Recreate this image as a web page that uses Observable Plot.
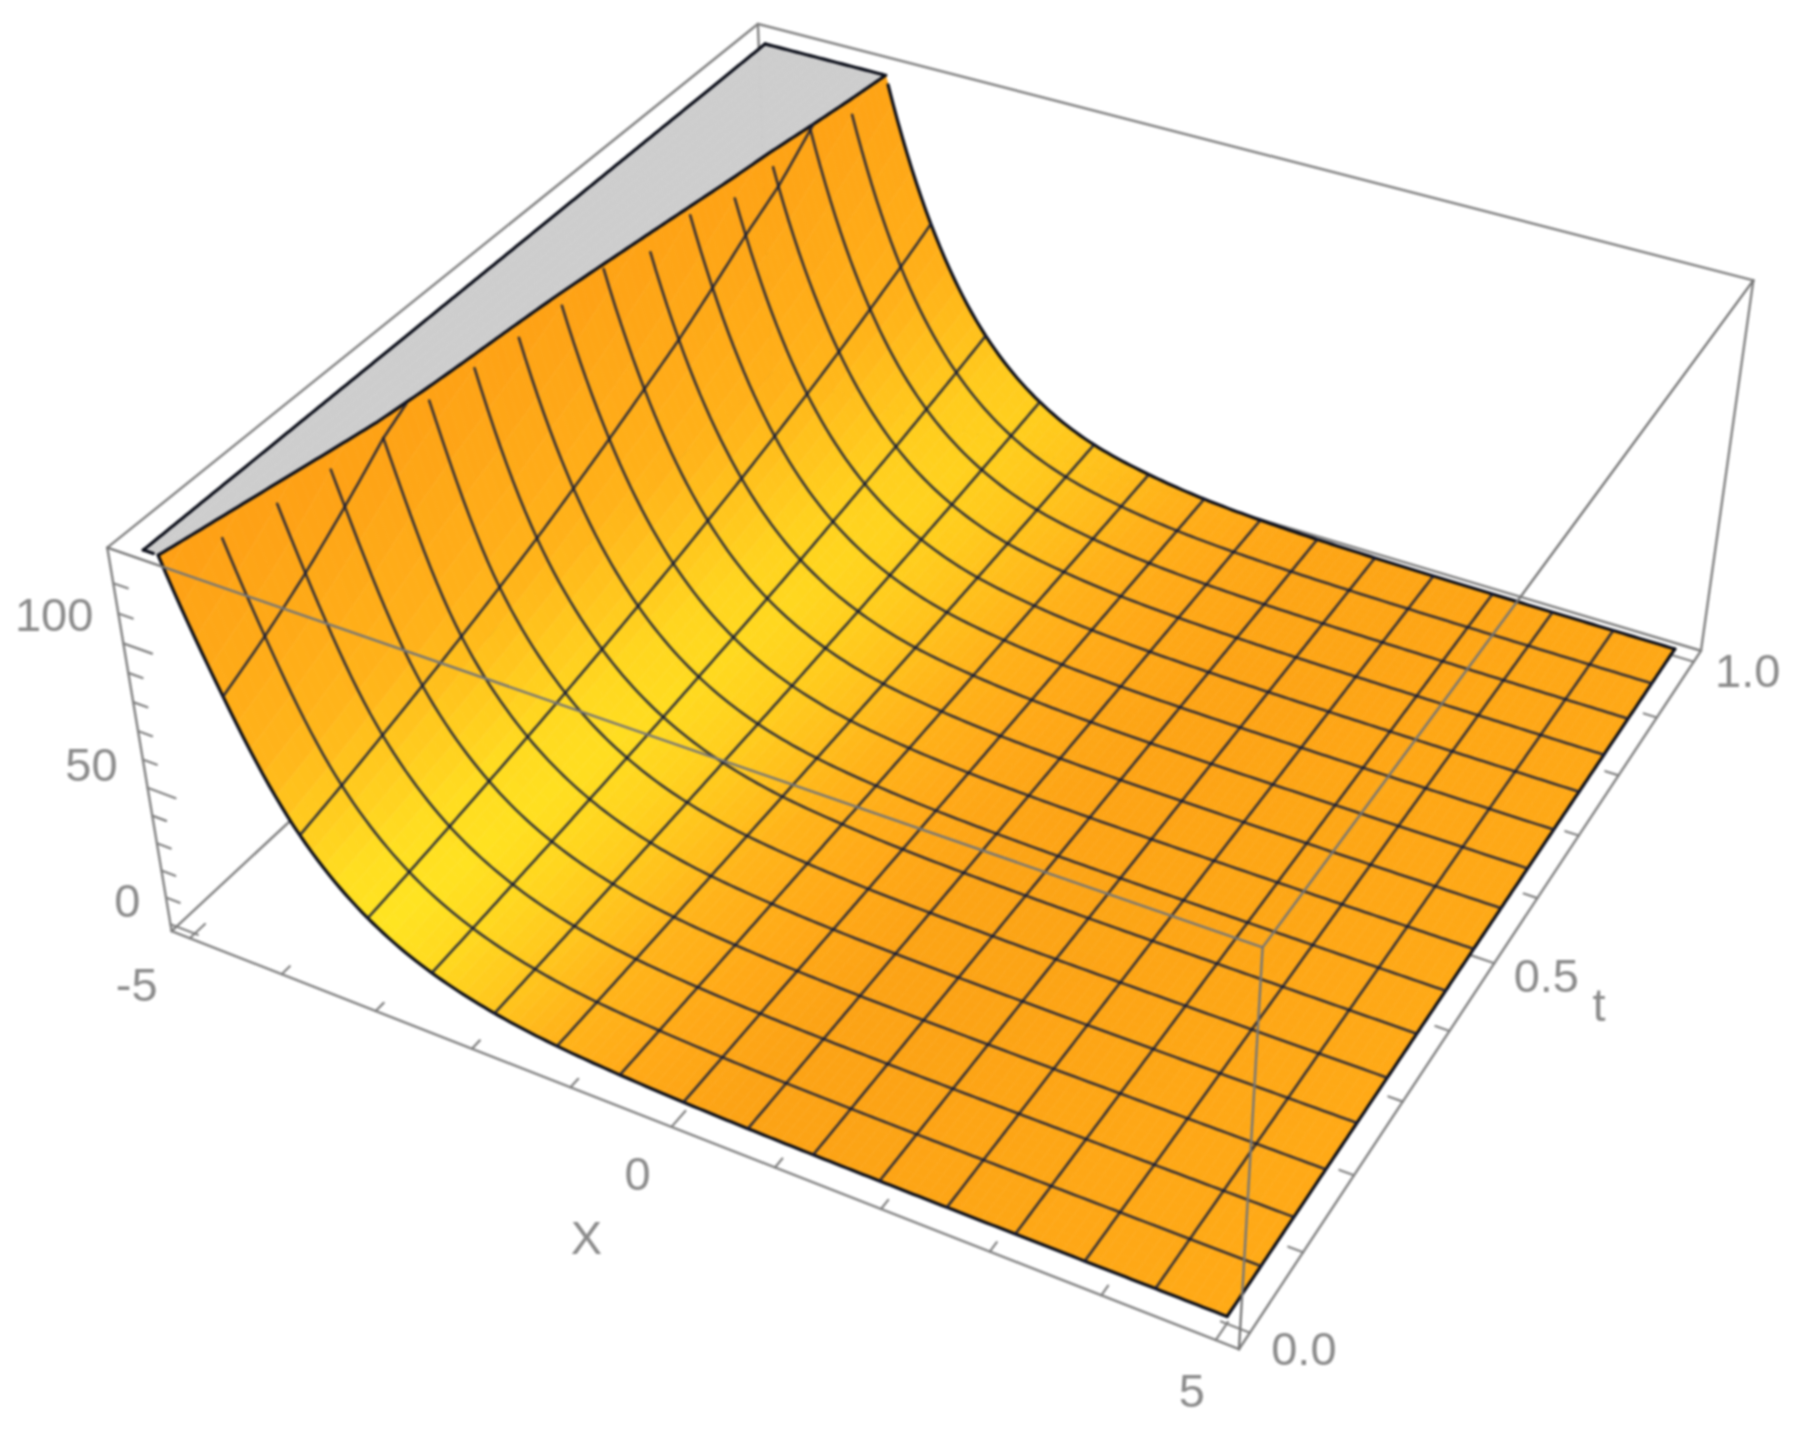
<!DOCTYPE html>
<html><head><meta charset="utf-8">
<style>html,body{margin:0;padding:0;background:#fff}svg{display:block;filter:blur(1.05px)}</style>
<script src="https://cdn.jsdelivr.net/npm/d3@7"></script>
<script src="https://cdn.jsdelivr.net/npm/@observablehq/plot@0.6"></script>
</head><body><div id="chart"></div>
<script>
// surface heights: one row per t mesh line, one column per x mesh line
const xMesh = [-5,-4.375,-3.75,-3.125,-2.5,-1.875,-1.25,-0.625,0,0.625,1.25,1.875,2.5,3.125,3.75,4.375,5];
const tMesh = [0,0.0625,0.125,0.1875,0.25,0.3125,0.375,0.4375,0.5,0.5625,0.625,0.6875,0.75,0.8125,0.875,0.9375,1];
const zRows = [
[146,87.3,46.7,25.0,13.4,7.16,3.83,2.15,1.15,.615,.330,.176,.094,.051,.027,.014,.008],
[160,94.5,50.1,26.8,14.4,7.70,4.12,2.31,1.24,.661,.355,.189,.101,.054,.029,.016,.008],
[175,103,54.0,28.8,15.5,8.27,4.42,2.48,1.33,.710,.381,.203,.109,.058,.031,.017,.009],
[190,113,58.0,31.0,16.6,8.88,4.76,2.66,1.43,.763,.409,.218,.117,.063,.034,.018,.010],
[205,124,62.3,33.3,17.9,9.55,5.11,2.86,1.53,.820,.440,.235,.126,.067,.036,.019,.010],
[220,132,66.9,35.8,19.2,10.2,5.49,3.08,1.65,.881,.473,.252,.135,.072,.039,.021,.011],
[263,140,71.8,38.5,20.6,11.0,5.90,3.31,1.77,.947,.508,.271,.145,.078,.042,.022,.012],
[282,147,77.3,41.4,22.2,11.8,6.34,3.55,1.90,1.02,.546,.291,.156,.084,.045,.024,.013],
[303,155,83.0,44.4,23.8,12.7,6.81,3.82,2.04,1.09,.586,.313,.168,.090,.048,.026,.014],
[326,166,89.2,47.8,25.5,13.7,7.32,4.10,2.20,1.17,.630,.336,.180,.097,.052,.028,.015],
[350,179,95.5,51.3,27.4,14.7,7.86,4.41,2.36,1.26,.677,.361,.193,.104,.055,.030,.016],
[376,192,103,55.1,29.5,15.8,8.45,4.73,2.53,1.36,.727,.388,.208,.112,.060,.032,.017],
[404,206,111,59.2,31.7,17.0,9.08,5.09,2.72,1.46,.782,.417,.223,.120,.064,.034,.018],
[434,222,118,63.6,34.0,18.2,9.74,5.47,2.93,1.57,.840,.448,.240,.129,.069,.037,.020],
[467,239,128,68.4,36.6,19.6,10.5,5.87,3.14,1.68,.902,.481,.258,.138,.074,.040,.021],
[501,256,138,73.4,39.3,21.0,11.3,6.31,3.38,1.81,.970,.517,.277,.149,.079,.043,.023],
[539,275,147,78.9,42.2,22.6,12.1,6.78,3.63,1.94,1.04,.555,.298,.160,.085,.046,.024]
];
const zMax = 129;
const xBox = [-5.2,5.2], tBox = [-0.02,1.02], zBox = [-2.6,131.6];
const xMajor = [-5,0,5], xMinor = [-4,-3,-2,-1,1,2,3,4];
const tMajor = [0,0.5,1], tMinor = [0.1,0.2,0.3,0.4,0.6,0.7,0.8,0.9];
const zMajor = [0,50,100], zMinor = [10,20,30,40,60,70,80,90,110,120];

// camera calibration: box and surface reference points [x,t,z] -> screen
const calib = [
 [-5.2,-.02,-2.6,171,929],[-5.2,-.02,131.6,106,548],[5.2,-.02,-2.6,1240,1349],[5.2,-.02,131.6,1263,946],
 [5.2,1.02,-2.6,1702,652],[5.2,1.02,131.6,1752,279],[-5.2,1.02,131.6,758,23],[-5.2,1.02,131.6,758,23],
 [5,0,0,1225,1316],[5,1,0,1673,648],[-5,0,129,143,551],[-5,1,129,764,44]
];
function solve(A,b){const n=b.length;const M=A.map((r,i)=>[...r,b[i]]);
 for(let c=0;c<n;c++){let p=c;for(let r=c+1;r<n;r++)if(Math.abs(M[r][c])>Math.abs(M[p][c]))p=r;[M[c],M[p]]=[M[p],M[c]];
  for(let r=0;r<n;r++){if(r===c)continue;const f=M[r][c]/M[c][c];for(let k=c;k<=n;k++)M[r][k]-=f*M[c][k];}}
 return M.map((r,i)=>r[n]/r[i]);}
const cam=(()=>{const rows=[],rhs=[];
 for(const [x,t,z,u0,v0] of calib){const X=x/5,Y=t,Z=z/130,u=u0/1000,v=v0/1000;
  rows.push([X,Y,Z,1,0,0,0,0,-u*X,-u*Y,-u*Z]);rhs.push(u);
  rows.push([0,0,0,0,X,Y,Z,1,-v*X,-v*Y,-v*Z]);rhs.push(v);}
 const N=Array.from({length:11},(_,i)=>Array.from({length:11},(_,j)=>d3.sum(rows,r=>r[i]*r[j])));
 const r=Array.from({length:11},(_,i)=>d3.sum(rows,(R,k)=>R[i]*rhs[k]));
 return solve(N,r);})();
function proj(x,t,z){const X=x/5,Y=t,Z=z/130;const w=cam[8]*X+cam[9]*Y+cam[10]*Z+1;
 return [1000*(cam[0]*X+cam[1]*Y+cam[2]*Z+cam[3])/w,1000*(cam[4]*X+cam[5]*Y+cam[6]*Z+cam[7])/w];}

// position inside the mesh: u along x, v along t (mesh-index units); smooth drawing between the read values
function rowAt(j,u,i,a){const r=zRows[j],L=k=>Math.log(r[Math.max(0,Math.min(16,k))]);
 const p1=L(i),p2=L(i+1),p0=i>0?L(i-1):2*p1-p2,p3=i<15?L(i+2):2*p2-p1;
 return 0.5*(2*p1+(p2-p0)*a+(2*p0-5*p1+4*p2-p3)*a*a+(3*p1-p0-3*p2+p3)*a*a*a);}
function lnZ(u,v){const i=Math.min(15,Math.floor(u)),j=Math.min(15,Math.floor(v)),a=u-i,b=v-j;
 return rowAt(j,u,i,a)*(1-b)+rowAt(j+1,u,i,a)*b;}
const toX=u=>xMesh[0]+(xMesh[16]-xMesh[0])*u/16, toT=v=>v/16;
const lnMax=Math.log(zMax);
const orange=d3.scaleLinear()
 .domain([-5,-1,-0.2,0.7,1.5,2.1,2.6,3.1,3.5,3.9,4.2,4.86])
 .range(["#ffaa16","#fca315","#fca315","#ffa917","#ffb51a","#ffc81d","#ffd81f","#ffe421","#ffdf21","#ffca1e","#ffb51a","#fea015"])
 .interpolate(d3.interpolateRgb);
function colorAt(l,t){return d3.interpolateRgb(orange(l),"#ffa816")(0.38*t);}
function clip(poly,keepBelow){const out=[];for(let i=0;i<poly.length;i++){const a=poly[i],b=poly[(i+1)%poly.length];
  const ia=keepBelow?a.l<=lnMax:a.l>=lnMax, ib=keepBelow?b.l<=lnMax:b.l>=lnMax;
  if(ia)out.push(a);
  if(ia!==ib){const f=(lnMax-a.l)/(b.l-a.l);out.push({u:a.u+(b.u-a.u)*f,v:a.v+(b.v-a.v)*f,l:lnMax});}}
 return out;}
const SUB=6, facets=[];let fid=0;
function pushPoly(poly,color,flat){if(poly.length<3)return;const id=fid++;
 for(const p of poly){const [px,py]=proj(toX(p.u),toT(p.v),flat?zMax:Math.exp(p.l));facets.push({id,px,py,color});}}
for(let b=0;b<16*SUB;b++)for(let a=0;a<16*SUB;a++){
 const q=[[a,b],[a+1,b],[a+1,b+1],[a,b+1]].map(([s,r])=>({u:s/SUB,v:r/SUB,l:lnZ(s/SUB,r/SUB)}));
 const lo=clip(q,true),hi=clip(q,false);
 if(lo.length>=3){const m=d3.mean(lo,p=>p.l),vm=d3.mean(lo,p=>p.v);pushPoly(lo,colorAt(m,vm/16),false);}
 if(hi.length>=3)pushPoly(hi,"#cdcdcd",true);
}
// mesh lines
const meshPts=[];let mid=0;const S=12;
for(let k=1;k<16;k++){let id=mid++;for(let s=0;s<=16*S;s++){const v=s/S,l=lnZ(k,v);if(l<=lnMax){const [px,py]=proj(xMesh[k],toT(v),Math.exp(l));meshPts.push({id,px,py});}}
 id=mid++;for(let s=0;s<=16*S;s++){const u=s/S,l=lnZ(u,k);if(l<=lnMax){const [px,py]=proj(toX(u),tMesh[k],Math.exp(l));meshPts.push({id,px,py});}}}
// boundary
function uClip(v){let a=0,b=8;for(let i=0;i<30;i++){const m=(a+b)/2;if(lnZ(m,v)>lnMax)a=m;else b=m;}return a;}
const edges=[];let eid=0;
function edge(fn){const id=eid++;for(let s=0;s<=16*S;s++){const p=fn(s/S);if(p)edges.push({id,px:p[0],py:p[1]});}}
edge(u=>{const l=lnZ(u,0);return l<=lnMax?proj(toX(u),0,Math.exp(l)):null;});
edge(u=>{const l=lnZ(u,16);return l<=lnMax?proj(toX(u),1,Math.exp(l)):null;});
edge(v=>proj(5,toT(v),Math.exp(lnZ(16,v))));
edge(v=>proj(toX(uClip(v)),toT(v),zMax));
edge(v=>proj(-5,toT(v),zMax));
edge(u=>{const e=uClip(16);return u<=e?proj(toX(u),1,zMax):null;});
edge(u=>{const e=uClip(0);return u<=e?proj(toX(u),0,zMax):null;});
// box
const [x0,x1]=xBox,[t0,t1]=tBox,[z0,z1]=zBox;
function segs(pairs){const out=[];pairs.forEach(([a,b],i)=>{const p=proj(...a),q=proj(...b);out.push({id:i,px:p[0],py:p[1]},{id:i,px:q[0],py:q[1]});});return out;}
const backBox=segs([[[x0,t0,z1],[x0,t1,z1]],[[x0,t1,z1],[x1,t1,z1]],[[x1,t1,z1],[x1,t1,z0]],[[x0,t0,z0],[x0,t1,z0]],[[x0,t1,z0],[x1,t1,z0]],[[x0,t1,z1],[x0,t1,z0]],
 [[x0,t0,z1],[x0,t0,z0]],[[x0,t0,z0],[x1,t0,z0]],[[x1,t0,z0],[x1,t1,z0]]]);
const frontBox=segs([[[x0,t0,z1],[x1,t0,z1]],[[x1,t0,z1],[x1,t1,z1]],[[x1,t0,z1],[x1,t0,z0]]]);
const tickPairs=[];
for(const v of xMajor)tickPairs.push([[v,t0,z0],[v,t0+.022,z0]]);
for(const v of xMinor)tickPairs.push([[v,t0,z0],[v,t0+.012,z0]]);
for(const v of tMajor)tickPairs.push([[x1,v,z0],[x1-.25,v,z0]]);
for(const v of tMinor)tickPairs.push([[x1,v,z0],[x1-.13,v,z0]]);
for(const v of zMajor)tickPairs.push([[x0,t0,v],[x0+.3,t0,v]]);
for(const v of zMinor)tickPairs.push([[x0,t0,v],[x0+.15,t0,v]]);
const ticks=segs(tickPairs);
const at=(x,t,z,text)=>{const [px,py]=proj(x,t,z);return {px,py,text};};
const textStyle={x:"px",y:"py",text:"text",fontSize:47,fontFamily:"Liberation Sans",fill:"#8b8b8b",lineAnchor:"middle"};
const line=(data,o)=>Plot.line(data,{x:"px",y:"py",z:"id",curve:"linear",...o});
const label=(x,t,z,s,o)=>Plot.text([at(x,t,z,s)],{...textStyle,...o});
const chart=Plot.plot({width:1809,height:1441,margin:0,
 x:{domain:[0,1809],range:[0,1809],axis:null},y:{domain:[0,1441],range:[0,1441],axis:null},color:{type:"identity"},
 marks:[
  line(backBox,{stroke:"#808080",strokeWidth:2.4}),
  line(ticks,{stroke:"#808080",strokeWidth:2.2}),
  line(facets,{fill:d=>d.color,stroke:d=>d.color,strokeWidth:0.7}),
  line(edges,{stroke:"#0a0d18",strokeWidth:3.2}),
  line(meshPts,{stroke:"#131b38",strokeOpacity:0.85,strokeWidth:2.6}),
  line(frontBox,{stroke:"#767676",strokeWidth:2.4}),
  label(x0,t0,zMajor[2],"100",{textAnchor:"end",dx:-30,dy:-27}),
  label(x0,t0,zMajor[1],"50",{textAnchor:"end",dx:-30,dy:-22}),
  label(x0,t0,zMajor[0],"0",{textAnchor:"end",dx:-30,dy:-22}),
  label(xMajor[0],t0,z0,"-5",{dx:-53,dy:48}),
  label(xMajor[1],t0,z0,"0",{dx:-34,dy:48}),
  label(xMajor[2],t0,z0,"5",{dx:-24,dy:52}),
  label(x1,tMajor[0],z0,"0.0",{dx:54,dy:17}),
  label(x1,tMajor[1],z0,"0.5",{dx:52,dy:14}),
  label(x1,tMajor[2],z0,"1.0",{dx:54,dy:10}),
  label(0,t0,z0,"X",{dx:-85,dy:112}),
  label(x1,0.45,z0,"t",{dx:127,dy:9})
 ]});
document.getElementById("chart").appendChild(chart);
</script></body></html>
